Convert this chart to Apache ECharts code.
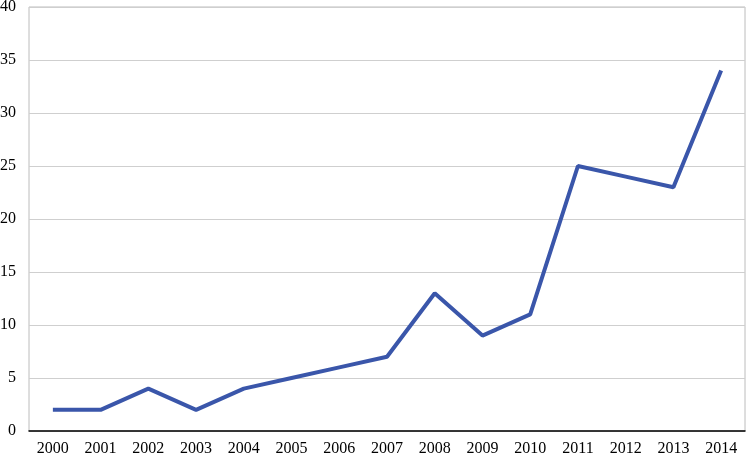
<!DOCTYPE html>
<html>
<head>
<meta charset="utf-8">
<script src="https://cdn.jsdelivr.net/npm/echarts@6/dist/echarts.min.js"></script>
<style>
html, body { margin: 0; padding: 0; background: #fff; }
#chart { width: 747px; height: 456px; }
</style>
</head>
<body>
<div id="chart"></div>
<script>
var years = ['2000', '2001', '2002', '2003', '2004', '2005', '2006', '2007', '2008', '2009', '2010', '2011', '2012', '2013', '2014']
var counts = [2, 2, 4, 2, 4, 5, 6, 7, 13, 9, 11, 25, 24, 23, 34]

var myChart = echarts.init(document.getElementById('chart'))
var option = {
	animation: false,
	grid: {
		left: 29,
		right: 2,
		top: 7,
		bottom: 25,
		outerBoundsMode: 'none',
		show: true,
		borderColor: '#bcbcbc',
		borderWidth: 1
	},
	xAxis: {
		type: 'category',
		data: years,
		boundaryGap: true,
		axisLine: { lineStyle: { color: '#000', width: 1.5 } },
		axisTick: { show: false },
		axisLabel: {
			color: '#000',
			fontFamily: 'Liberation Serif',
			fontSize: 16,
			margin: 10
		}
	},
	yAxis: {
		type: 'value',
		min: 0,
		max: 40,
		interval: 5,
		axisLine: { show: false },
		axisTick: { show: false },
		splitLine: { lineStyle: { color: '#cfcfcf', width: 1 } },
		axisLabel: {
			color: '#000',
			fontFamily: 'Liberation Serif',
			fontSize: 16,
			margin: 13
		}
	},
	series: [{
		type: 'line',
		data: counts,
		symbol: 'none',
		lineStyle: { color: '#3a56aa', width: 4 }
	}]
}
myChart.setOption(option)
</script>
</body>
</html>
